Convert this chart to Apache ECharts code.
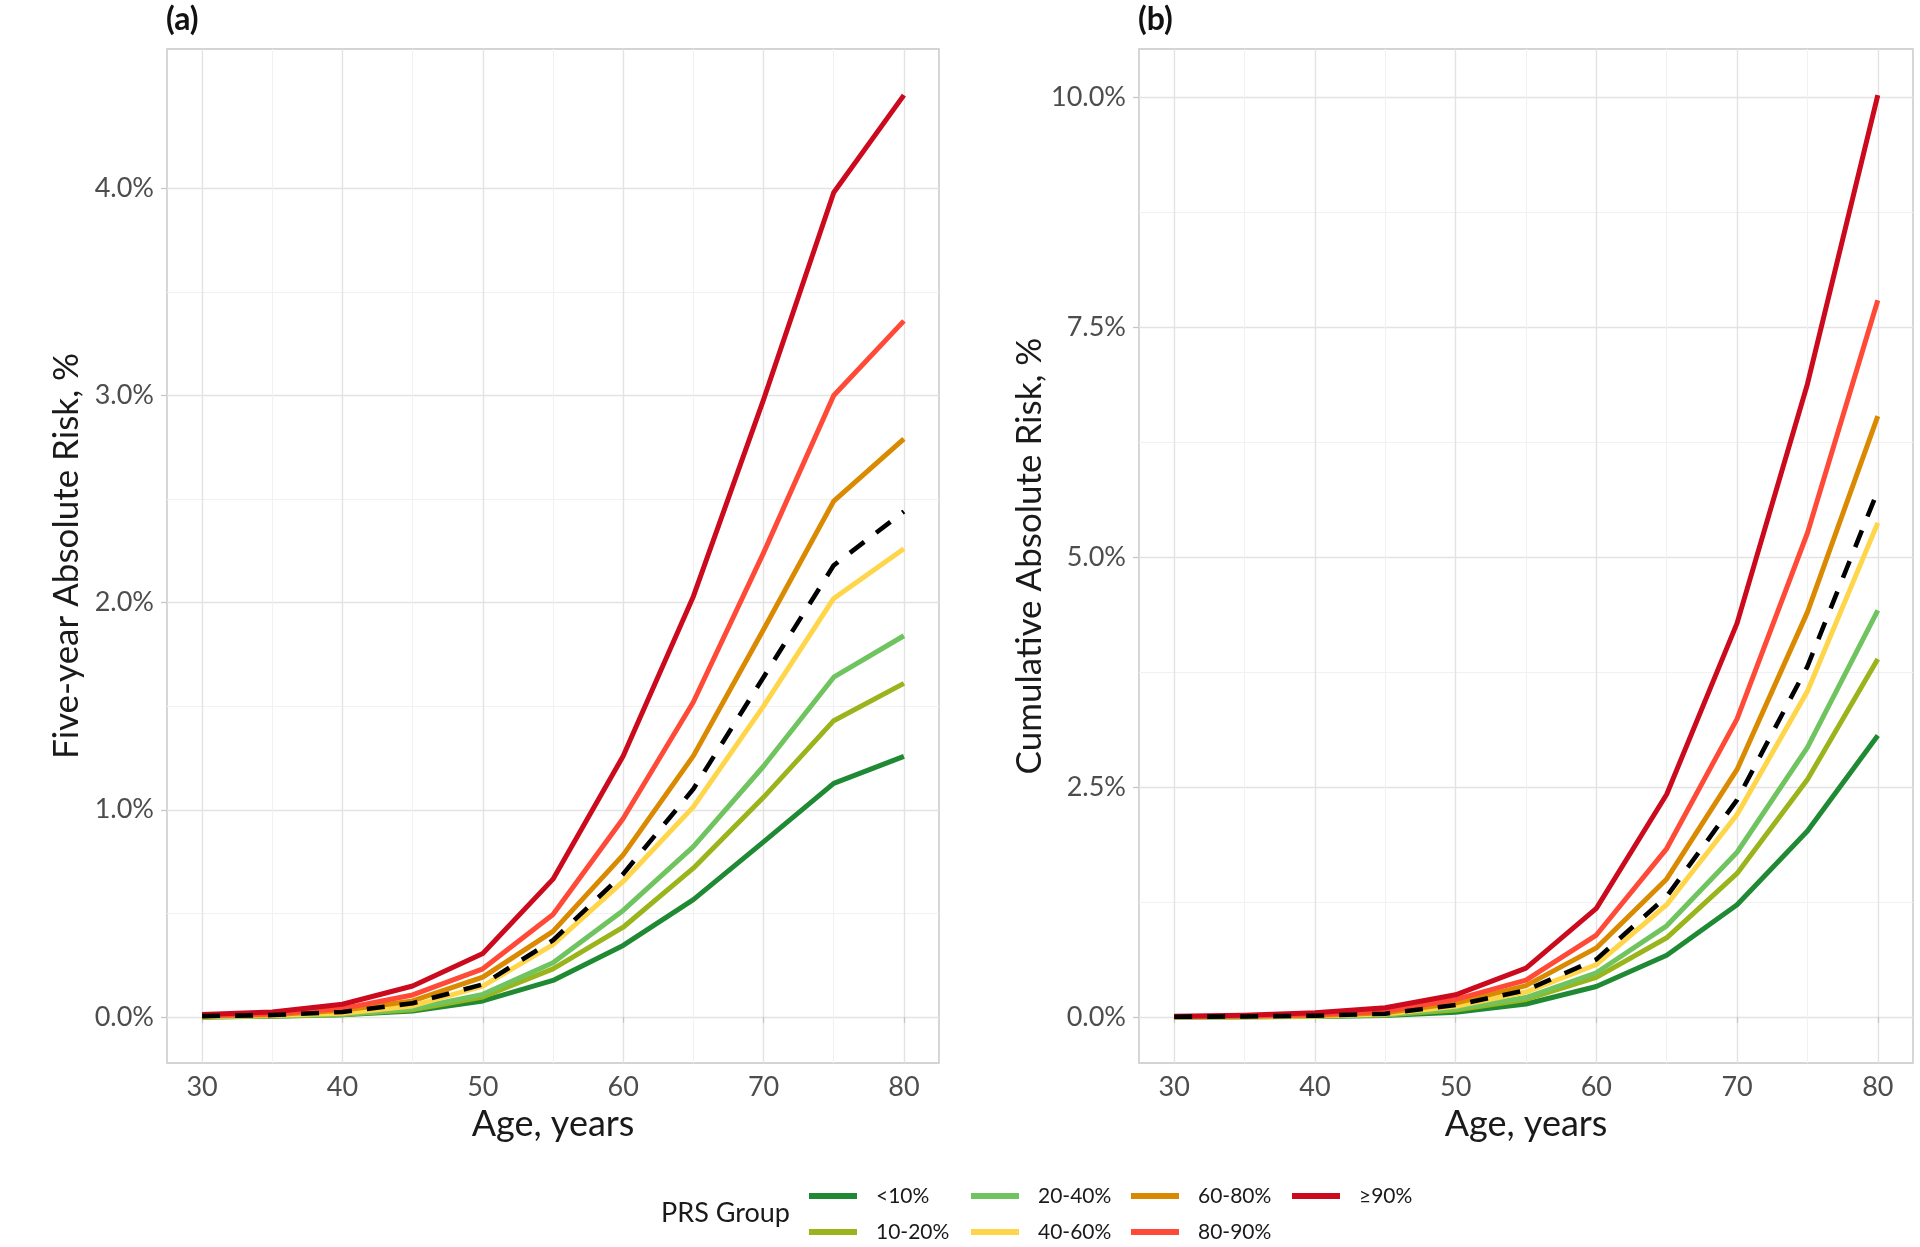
<!DOCTYPE html>
<html>
<head>
<meta charset="utf-8">
<script src="https://cdn.jsdelivr.net/npm/echarts@6/dist/echarts.min.js"></script>
<style>
html,body{margin:0;padding:0;background:#fff;}
#chart{width:1920px;height:1247px;}
</style>
</head>
<body>
<div id="chart"></div>
<script>
// ---------- data ----------
const ages = [30, 35, 40, 45, 50, 55, 60, 65, 70, 75, 80];
const groups = ['<10%', '10-20%', '20-40%', '40-60%', '60-80%', '80-90%', '≥90%'];
const overallName = 'Overall';

// Panel (a): five-year absolute risk, %
const fiveLt10   = [0.000, 0.003, 0.010, 0.029, 0.077, 0.176, 0.345, 0.566, 0.845, 1.127, 1.258];
const five10_20  = [0.000, 0.004, 0.011, 0.034, 0.096, 0.232, 0.433, 0.718, 1.060, 1.430, 1.610];
const five20_40  = [0.000, 0.005, 0.013, 0.040, 0.109, 0.261, 0.514, 0.822, 1.210, 1.640, 1.840];
const five40_60  = [0.002, 0.007, 0.018, 0.053, 0.149, 0.349, 0.654, 1.014, 1.500, 2.020, 2.260];
const five60_80  = [0.004, 0.010, 0.032, 0.077, 0.192, 0.413, 0.782, 1.260, 1.870, 2.490, 2.790];
const five80_90  = [0.006, 0.015, 0.040, 0.106, 0.232, 0.494, 0.958, 1.520, 2.240, 3.000, 3.360];
const fiveGe90   = [0.012, 0.024, 0.061, 0.149, 0.306, 0.665, 1.260, 2.030, 2.980, 3.980, 4.450];
const fiveAll    = [0.004, 0.009, 0.024, 0.066, 0.157, 0.370, 0.690, 1.100, 1.640, 2.180, 2.440];

// Panel (b): cumulative absolute risk, %
const cumLt10    = [0.000, 0.002, 0.005, 0.015, 0.050, 0.140, 0.330, 0.670, 1.220, 2.020, 3.060];
const cum10_20   = [0.000, 0.003, 0.007, 0.020, 0.075, 0.190, 0.430, 0.860, 1.560, 2.580, 3.890];
const cum20_40   = [0.000, 0.003, 0.008, 0.024, 0.090, 0.210, 0.480, 0.990, 1.790, 2.930, 4.420];
const cum40_60   = [0.001, 0.004, 0.011, 0.032, 0.115, 0.270, 0.570, 1.220, 2.200, 3.540, 5.370];
const cum60_80   = [0.002, 0.006, 0.016, 0.045, 0.150, 0.340, 0.750, 1.500, 2.690, 4.400, 6.530];
const cum80_90   = [0.003, 0.010, 0.025, 0.060, 0.190, 0.400, 0.890, 1.830, 3.240, 5.260, 7.790];
const cumGe90    = [0.006, 0.018, 0.046, 0.100, 0.240, 0.530, 1.180, 2.420, 4.280, 6.880, 10.020];
const cumAll     = [0.002, 0.005, 0.013, 0.035, 0.130, 0.290, 0.625, 1.310, 2.360, 3.810, 5.720];

// tick labels
const xTicks  = [30, 40, 50, 60, 70, 80];
const yTicksA = [0, 1, 2, 3, 4];
const yTicksB = [0, 2.5, 5, 7.5, 10];

// ---------- styles ----------
const colors = ['#1F8A33', '#9AB41C', '#6FC460', '#FFD54A', '#DA8A00', '#FF4A38', '#CC0A1E'];
const FONT = 'Lato, "Open Sans", sans-serif';
const majorGrid = '#E3E3E3';
const minorGrid = '#F1F1F1';
const borderCol = '#C6C6C6';
const tickText = '#4D4D4D';

const fiveSets = [fiveLt10, five10_20, five20_40, five40_60, five60_80, five80_90, fiveGe90];
const cumSets  = [cumLt10, cum10_20, cum20_40, cum40_60, cum60_80, cum80_90, cumGe90];

function mids(arr) {
  const out = [];
  for (let i = 0; i < arr.length - 1; i++) out.push((arr[i] + arr[i + 1]) / 2);
  return out;
}
function expand(lo, hi) { const r = hi - lo; return [lo - 0.05 * r, hi + 0.05 * r]; }
function extentOf(sets) {
  let lo = Infinity, hi = -Infinity;
  sets.forEach(s => s.forEach(v => { lo = Math.min(lo, v); hi = Math.max(hi, v); }));
  return expand(lo, hi);
}
const xExt = expand(ages[0], ages[ages.length - 1]);
const yExtA = extentOf(fiveSets.concat([fiveAll]));
const yExtB = extentOf(cumSets.concat([cumAll]));

const grids = [
  { left: 167, top: 49, width: 772, height: 1014 },
  { left: 1139, top: 49, width: 774, height: 1014 }
];

function xAxes(gridIndex) {
  return [
    {
      type: 'value', gridIndex, min: xExt[0], max: xExt[1],
      name: 'Age, years', nameLocation: 'middle', nameGap: 32,
      nameTextStyle: { fontFamily: FONT, fontSize: 36, color: '#1A1A1A' },
      axisLine: { show: false },
      axisTick: { show: true, customValues: xTicks, length: 6, lineStyle: { color: borderCol, width: 1.3 } },
      axisLabel: { customValues: xTicks, fontFamily: FONT, fontSize: 27, color: tickText, margin: 11 },
      splitLine: { show: true, lineStyle: { color: majorGrid, width: 1.4 } }
    },
    {
      type: 'value', gridIndex, min: xExt[0], max: xExt[1],
      axisLine: { show: false },
      axisTick: { show: false, customValues: mids(xTicks) },
      axisLabel: { show: false, customValues: mids(xTicks) },
      splitLine: { show: true, lineStyle: { color: minorGrid, width: 1 } }
    }
  ];
}
function yAxes(gridIndex, ext, ticks, title) {
  const fmt = v => v.toFixed(1) + '%';
  return [
    {
      type: 'value', gridIndex, min: ext[0], max: ext[1],
      name: title, nameLocation: 'middle', nameGap: 83,
      nameTextStyle: { fontFamily: FONT, fontSize: 35, color: '#1A1A1A' },
      axisLine: { show: false },
      axisTick: { show: true, customValues: ticks, length: 6, lineStyle: { color: borderCol, width: 1.3 } },
      axisLabel: { customValues: ticks, formatter: fmt, fontFamily: FONT, fontSize: 27, color: tickText, margin: 13 },
      splitLine: { show: true, lineStyle: { color: majorGrid, width: 1.4 } }
    },
    {
      type: 'value', gridIndex, min: ext[0], max: ext[1],
      axisLine: { show: false },
      axisTick: { show: false, customValues: mids(ticks) },
      axisLabel: { show: false, customValues: mids(ticks) },
      splitLine: { show: true, lineStyle: { color: minorGrid, width: 1 } }
    }
  ];
}

function pairs(vals) { return ages.map((a, i) => [a, vals[i]]); }

const series = [];
[[fiveSets, fiveAll, 0], [cumSets, cumAll, 2]].forEach(([sets, all, axIdx]) => {
  sets.forEach((vals, i) => {
    series.push({
      name: groups[i], type: 'line', xAxisIndex: axIdx, yAxisIndex: axIdx,
      data: pairs(vals), symbol: 'none', showSymbol: false,
      lineStyle: { color: colors[i], width: 5, cap: 'butt', join: 'round' },
      itemStyle: { color: colors[i] }, z: 3 + i * 0.01
    });
  });
  series.push({
    name: overallName, type: 'line', xAxisIndex: axIdx, yAxisIndex: axIdx,
    data: pairs(all), symbol: 'none', showSymbol: false,
    lineStyle: { color: '#000', width: 4.6, type: [18, 15], cap: 'butt' },
    itemStyle: { color: '#000' }, z: 4
  });
});

const legendCols = [[groups[0], groups[1]], [groups[2], groups[3]], [groups[4], groups[5]], [groups[6]]];
const legendLeft = [809, 971, 1131, 1292];
const legends = legendCols.map((names, i) => ({
  orient: 'vertical', left: legendLeft[i], top: 1185, padding: 0,
  itemWidth: 48, itemHeight: 6, itemGap: 14, icon: 'rect', selectedMode: false,
  textStyle: { fontFamily: FONT, fontSize: 21, color: '#1A1A1A', padding: [0, 0, 0, 14], lineHeight: 22 },
  data: names
}));

const option = {
  backgroundColor: '#fff',
  animation: false,
  title: [
    { text: '(a)', left: 166, top: 4, padding: 0, textStyle: { fontFamily: FONT, fontSize: 32, fontWeight: 'bold', color: '#111' } },
    { text: '(b)', left: 1138, top: 4, padding: 0, textStyle: { fontFamily: FONT, fontSize: 32, fontWeight: 'bold', color: '#111' } },
    { text: 'PRS Group', left: 661, top: 1200, padding: 0, textStyle: { fontFamily: FONT, fontSize: 27, fontWeight: 'normal', color: '#1A1A1A' } }
  ],
  grid: grids.map(g => Object.assign({ show: true, borderColor: borderCol, borderWidth: 1.4, backgroundColor: 'transparent' }, g)),
  xAxis: xAxes(0).concat(xAxes(1)),
  yAxis: yAxes(0, yExtA, yTicksA, 'Five-year Absolute Risk, %').concat(yAxes(1, yExtB, yTicksB, 'Cumulative Absolute Risk, %')),
  legend: legends,
  series
};

const chart = echarts.init(document.getElementById('chart'), null, { renderer: 'canvas' });
chart.setOption(option);
</script>
</body>
</html>
